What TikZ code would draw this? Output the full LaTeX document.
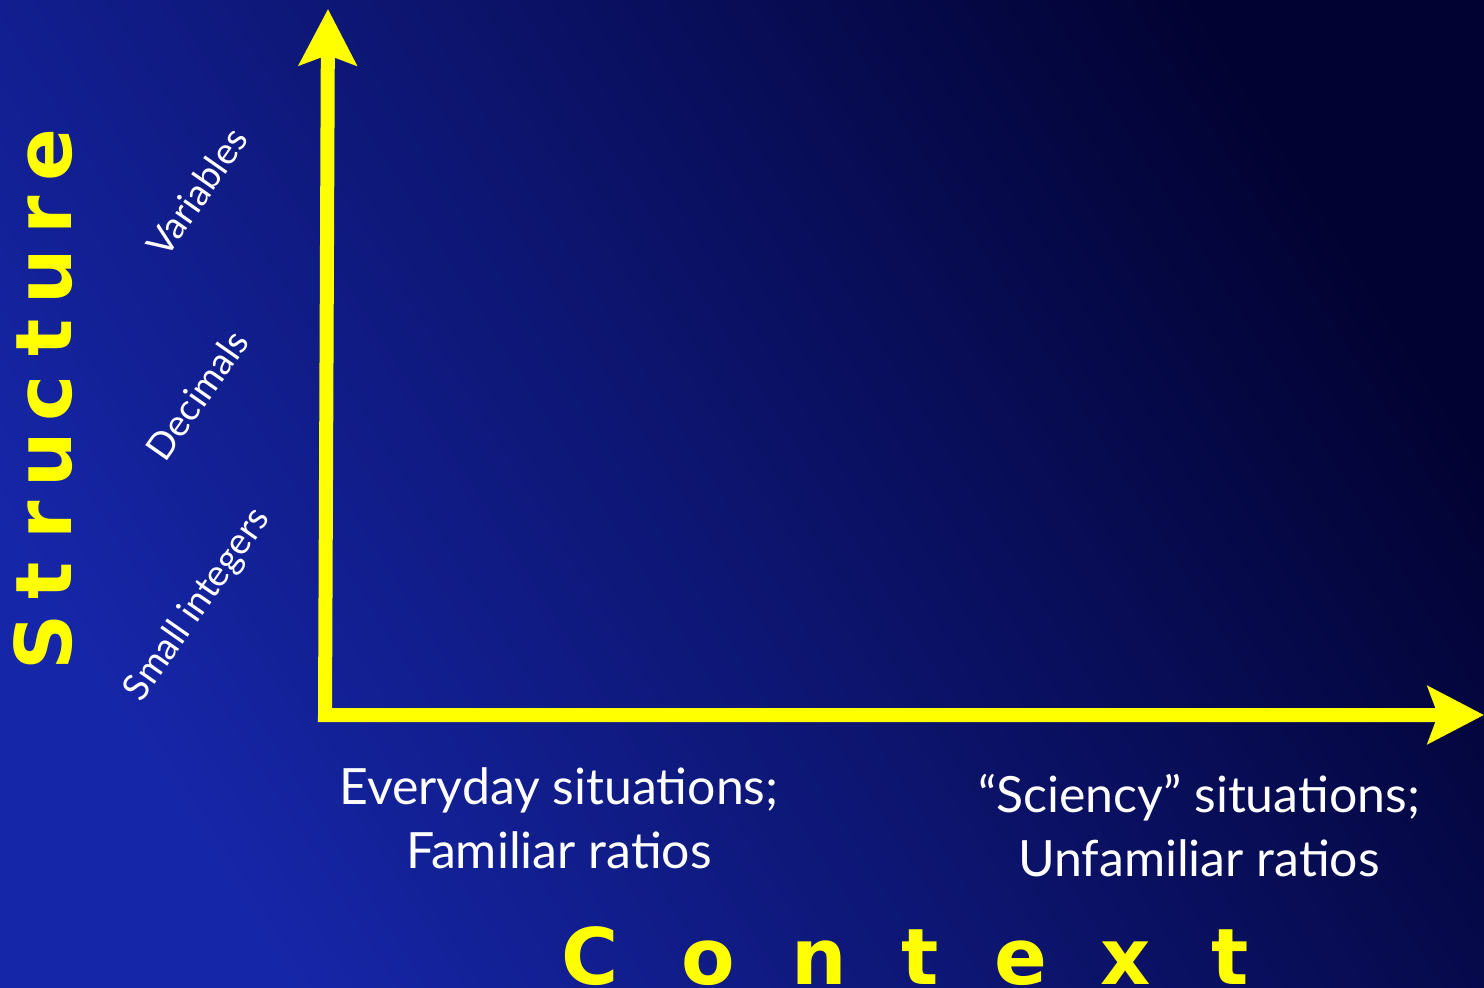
\documentclass[tikz,border=0pt]{standalone}
\usepackage{fontspec}
\setmainfont{Lato}
\newfontfamily\headfont{DejaVu Sans}
\usetikzlibrary{arrows.meta}
\definecolor{bgdark}{HTML}{020232}
\definecolor{bgmid}{HTML}{0A1272}
\definecolor{bglight}{HTML}{1626A8}
\definecolor{axisyellow}{HTML}{FFFF00}

\begin{document}
\begin{tikzpicture}[x=1pt,y=-1pt,
  axis/.style={draw=axisyellow,line width=14pt,line join=miter,
    {Stealth[length=56pt,width=57pt,inset=10pt]}-{Stealth[length=56pt,width=57pt,inset=10pt]}},
  bigletter/.style={text=axisyellow,font=\headfont\bfseries\fontsize{78}{80}\selectfont,inner sep=0pt,anchor=base},
  ticklabel/.style={text=white,font=\fontsize{37}{40}\selectfont,rotate=55,inner sep=0pt},
  caption/.style={text=white,align=center,font=\fontsize{50}{64}\selectfont,inner sep=0pt}]
\shade[top color=bgdark,middle color=bgmid,bottom color=bglight,shading angle=-58] (0,0) rectangle (1484,988);
\useasboundingbox (0,0) rectangle (1484,988);
% axes
\coordinate (ytip) at (328,9);
\coordinate (origin) at (325,715);
\coordinate (xtip) at (1484,715);
\draw[axis] (ytip) -- (origin) -- (xtip);
% structure levels
\node[ticklabel] (small) at (198,605) {Small integers};
\node[ticklabel] (dec) at (197,395) {Decimals};
\node[ticklabel] (var) at (197,192) {Variables};
% context levels
\node[caption] (everyday) at (559,818) {Everyday situations;\\Familiar ratios};
\node[caption] (sciency) at (1199,826) {“Sciency” situations;\\Unfamiliar ratios};
% axis titles
\foreach \l [count=\i from 0] in {S,t,r,u,c,t,u,r,e}
  \node[bigletter,rotate=90] (s\i) at (71,642-60.9*\i) {\l};
\foreach \l/\x [count=\i] in {C/590,o/708,n/819,t/920,e/1021,x/1126,t/1230}
  \node[bigletter] (c\i) at (\x,984) {\l};
\end{tikzpicture}
\end{document}
